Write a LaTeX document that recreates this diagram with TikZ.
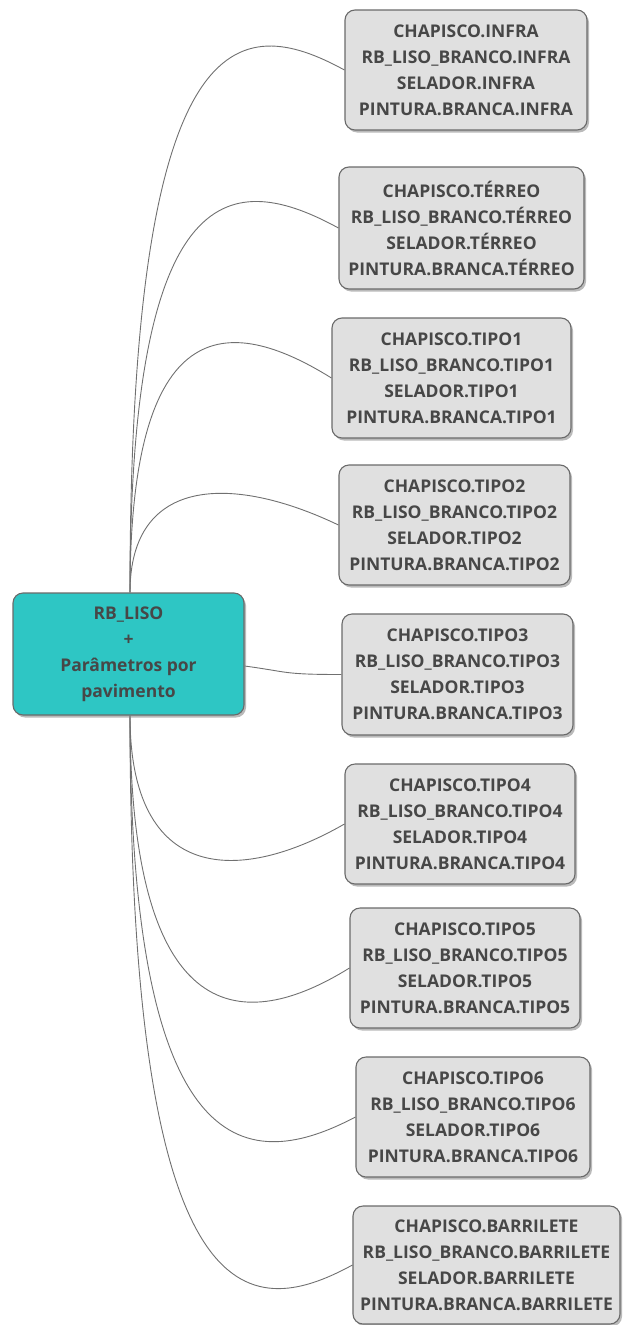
\documentclass[tikz,border=0pt]{standalone}
\usepackage{fontspec}
\setmainfont{Open Sans}
\usetikzlibrary{shadows,calc,backgrounds}
\definecolor{txt}{HTML}{474747}
\definecolor{boxfill}{HTML}{E0E0E0}
\definecolor{boxdraw}{HTML}{6A6A6A}
\definecolor{rootfill}{HTML}{2EC6C4}
\definecolor{linec}{HTML}{707070}
\tikzset{
  leaf/.style={draw=boxdraw, line width=1.1pt, fill=boxfill, rounded corners=10pt,
    inner sep=0pt, minimum height=120pt, align=center, text=txt,
    font=\fontsize{17.5}{26}\selectfont\bfseries,
    drop shadow={shadow xshift=2pt, shadow yshift=-2.5pt, fill=black!45, opacity=.6}},
  rootbox/.style={leaf, fill=rootfill, minimum width=231pt, minimum height=122pt},
  conn/.style={draw=linec, line width=0.9pt}
}
\begin{document}
\begin{tikzpicture}[x=1pt, y=-1pt]
\useasboundingbox (0,0) rectangle (622,1325);
\node[rootbox] (root) at (128.5,654) {RB\_LISO\\+\\Parâmetros por\\pavimento};
\node[leaf, minimum width=242pt] (b1) at (466,70) {CHAPISCO.INFRA\\RB\_LISO\_BRANCO.INFRA\\SELADOR.INFRA\\PINTURA.BRANCA.INFRA};
\node[leaf, minimum width=245pt, minimum height=122pt] (b2) at (461.5,228) {CHAPISCO.TÉRREO\\RB\_LISO\_BRANCO.TÉRREO\\SELADOR.TÉRREO\\PINTURA.BRANCA.TÉRREO};
\node[leaf, minimum width=239pt] (b3) at (451.5,378) {CHAPISCO.TIPO1\\RB\_LISO\_BRANCO.TIPO1\\SELADOR.TIPO1\\PINTURA.BRANCA.TIPO1};
\node[leaf, minimum width=231pt] (b4) at (454.5,525) {CHAPISCO.TIPO2\\RB\_LISO\_BRANCO.TIPO2\\SELADOR.TIPO2\\PINTURA.BRANCA.TIPO2};
\node[leaf, minimum width=231pt, minimum height=121pt] (b5) at (457.5,674.5) {CHAPISCO.TIPO3\\RB\_LISO\_BRANCO.TIPO3\\SELADOR.TIPO3\\PINTURA.BRANCA.TIPO3};
\node[leaf, minimum width=230pt] (b6) at (460,824) {CHAPISCO.TIPO4\\RB\_LISO\_BRANCO.TIPO4\\SELADOR.TIPO4\\PINTURA.BRANCA.TIPO4};
\node[leaf, minimum width=230pt] (b7) at (465,968) {CHAPISCO.TIPO5\\RB\_LISO\_BRANCO.TIPO5\\SELADOR.TIPO5\\PINTURA.BRANCA.TIPO5};
\node[leaf, minimum width=234pt] (b8) at (473,1117) {CHAPISCO.TIPO6\\RB\_LISO\_BRANCO.TIPO6\\SELADOR.TIPO6\\PINTURA.BRANCA.TIPO6};
\node[leaf, minimum width=267pt, minimum height=118pt] (b9) at (486.5,1265) {CHAPISCO.BARRILETE\\RB\_LISO\_BRANCO.BARRILETE\\SELADOR.BARRILETE\\PINTURA.BRANCA.BARRILETE};
\begin{scope}[on background layer]
% connectors (upper)
\draw[conn] ($(root.north)+(1.5,0)$) .. controls (130,13) and (240,13) .. (b1.west);
\draw[conn] ($(root.north)+(1.5,0)$) .. controls (130,171) and (234,171) .. (b2.west);
\draw[conn] ($(root.north)+(1.5,0)$) .. controls (130,313) and (227,313) .. (b3.west);
\draw[conn] ($(root.north)+(1.5,0)$) .. controls (130,475) and (234,475) .. (b4.west);
% middle
\draw[conn] ($(root.east)+(0,12)$) .. controls +(45,6) and +(-60,0) .. (b5.west);
% lower
\draw[conn] ($(root.south)+(1.5,0)$) .. controls (130,884) and (240,884) .. (b6.west);
\draw[conn] ($(root.south)+(1.5,0)$) .. controls (130,1033) and (245,1033) .. (b7.west);
\draw[conn] ($(root.south)+(1.5,0)$) .. controls (130,1172) and (251,1172) .. (b8.west);
\draw[conn] ($(root.south)+(1.5,0)$) .. controls (130,1322) and (248,1322) .. (b9.west);
\end{scope}
\end{tikzpicture}
\end{document}
